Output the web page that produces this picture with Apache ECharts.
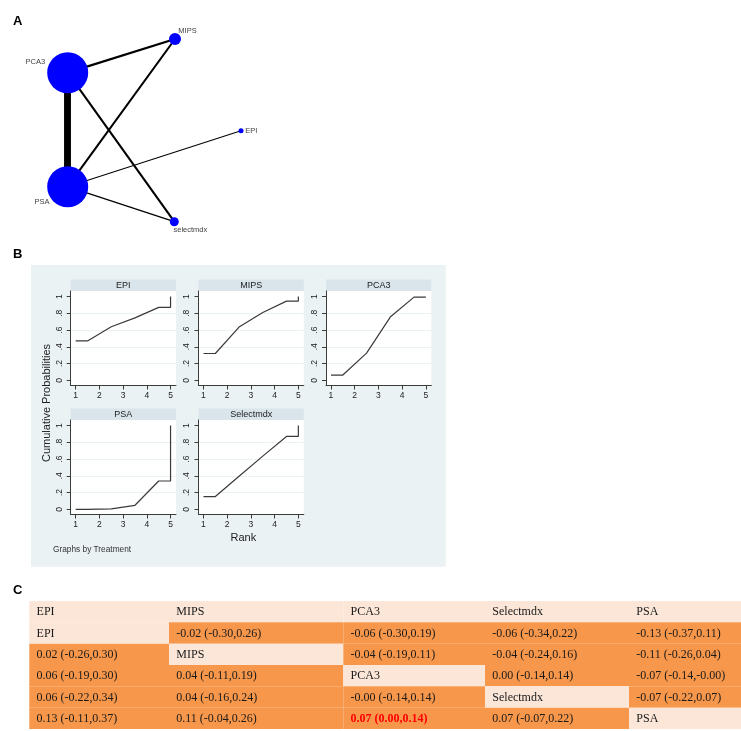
<!DOCTYPE html>
<html><head><meta charset="utf-8">
<script src="https://cdn.jsdelivr.net/npm/echarts@6/dist/echarts.min.js"></script>
<style>html,body{margin:0;padding:0;background:#fff}#c{width:741px;height:731px}</style>
</head><body><div id="c"></div>
<script>
// ---------- Panel A: network data ----------
const netNodes = ['PCA3', 'PSA', 'MIPS', 'EPI', 'selectmdx'];
const netNodeWeight = [41, 41, 12, 5, 9];           // node diameter (sample size proxy)
const netLayoutX = [67.7, 67.7, 175, 241, 174.3];    // network layout positions
const netLayoutY = [72.7, 186.7, 39, 130.7, 221.7];
const netEdgeSource = ['PCA3', 'PCA3', 'PSA', 'PCA3', 'PSA', 'PSA'];
const netEdgeTarget = ['PSA', 'MIPS', 'MIPS', 'selectmdx', 'EPI', 'selectmdx'];
const netEdgeStudies = [6, 2, 1.8, 1.8, 0.9, 1.1];

// ---------- Panel B: cumulative rank probabilities ----------
const rankTreatments = ['EPI', 'MIPS', 'PCA3', 'PSA', 'Selectmdx'];
const cumEPI = [0.47, 0.64, 0.745, 0.87, 1];
const cumMIPS = [0.32, 0.635, 0.81, 0.945, 1];
const cumPCA3 = [0.063, 0.325, 0.755, 0.993, 1];
const cumPSA = [0, 0.005, 0.048, 0.338, 1];
const cumSelectmdx = [0.152, 0.395, 0.635, 0.87, 1];
const rankTicks = [1, 2, 3, 4, 5];
const probTicks = [0, 0.2, 0.4, 0.6, 0.8, 1];
const probTickLabels = ['0', '.2', '.4', '.6', '.8', '1'];

// ---------- Panel C: league table ----------
const leagueNames = ['EPI', 'MIPS', 'PCA3', 'Selectmdx', 'PSA'];
const leagueEst = [
  [null, -0.02, -0.06, -0.06, -0.13],
  [0.02, null, -0.04, -0.04, -0.11],
  [0.06, 0.04, null, 0.004, -0.07],
  [0.06, 0.04, -0.004, null, -0.07],
  [0.13, 0.11, 0.07, 0.07, null]];
const leagueLo = [
  [null, -0.30, -0.30, -0.34, -0.37],
  [-0.26, null, -0.19, -0.24, -0.26],
  [-0.19, -0.11, null, -0.14, -0.14],
  [-0.22, -0.16, -0.14, null, -0.22],
  [-0.11, -0.04, 0.004, -0.07, null]];
const leagueHi = [
  [null, 0.26, 0.19, 0.22, 0.11],
  [0.30, null, 0.11, 0.16, 0.04],
  [0.30, 0.19, null, 0.14, -0.004],
  [0.34, 0.24, 0.14, null, 0.07],
  [0.37, 0.26, 0.14, 0.22, null]];
const leagueHighlight = [[4, 2]];

// ================= build =================
const SANS = 'Liberation Sans, Arial, sans-serif';
const SERIF = 'Liberation Serif, Times New Roman, serif';
const cumAll = [cumEPI, cumMIPS, cumPCA3, cumPSA, cumSelectmdx];

const grids = [], xAxes = [], yAxes = [], series = [], graphics = [];

// Panel A grid
grids.push({left: 0, top: 0, width: 300, height: 250, outerBoundsMode: 'none'});
xAxes.push({type: 'value', gridIndex: 0, min: 0, max: 300, show: false});
yAxes.push({type: 'value', gridIndex: 0, min: 0, max: 250, inverse: true, show: false});
const labelCfg = {
  PCA3: {position: 'left', distance: 0, offset: [-2, -11]},
  PSA: {position: 'left', distance: 0, offset: [2.3, 15]},
  MIPS: {position: 'right', distance: 0, offset: [-2.7, -8.3]},
  EPI: {position: 'right', distance: 0, offset: [1.7, 0]},
  selectmdx: {position: 'right', distance: 0, offset: [-5.3, 8.5]}
};
series.push({
  type: 'graph', coordinateSystem: 'cartesian2d', xAxisIndex: 0, yAxisIndex: 0,
  symbol: 'circle', silent: true, animation: false,
  itemStyle: {color: '#0000ff'},
  lineStyle: {color: '#000', opacity: 1, curveness: 0},
  label: {show: true, fontSize: 7.5, color: '#444', fontFamily: SANS},
  data: netNodes.map((n, i) => ({
    name: n, value: [netLayoutX[i], netLayoutY[i]], symbolSize: netNodeWeight[i],
    label: Object.assign({show: true}, labelCfg[n])
  })),
  links: netEdgeSource.map((s, i) => ({
    source: s, target: netEdgeTarget[i], lineStyle: {width: netEdgeStudies[i] * 1.15}
  }))
});

// Panel B
const colLeft = [70.7, 198.5, 326];
const rowTop = [291, 420];
const pW = 105.3, pH = 94.5, hdrH = 11.5;
graphics.push({type: 'rect', shape: {x: 31, y: 265, width: 414.7, height: 301.7}, style: {fill: '#eaf2f3'}, z: -10});
const rankX = [1, 1.5, 2.5, 3.5, 4.5, 5, 5];
const rankIdx = [0, 0, 1, 2, 3, 3, 4];
rankTreatments.forEach((t, k) => {
  const col = k % 3, row = Math.floor(k / 3), gi = k + 1;
  const L = colLeft[col], T = rowTop[row];
  grids.push({left: L, top: T, width: pW, height: pH, show: true, backgroundColor: '#fff', borderWidth: 0, outerBoundsMode: 'none'});
  xAxes.push({
    type: 'value', gridIndex: gi, min: 0.79, max: 5.23,
    axisLine: {show: true, onZero: false, lineStyle: {color: '#3c3c3c', width: 1}},
    axisTick: {show: true, length: 4, customValues: rankTicks, lineStyle: {color: '#3c3c3c'}},
    axisLabel: {customValues: rankTicks, fontSize: 8.5, color: '#222', margin: 6, fontFamily: SANS},
    splitLine: {show: false}
  });
  yAxes.push({
    type: 'value', gridIndex: gi, min: -0.062, max: 1.066,
    axisLine: {show: true, onZero: false, lineStyle: {color: '#3c3c3c', width: 1}},
    axisTick: {show: true, length: 4, customValues: probTicks, lineStyle: {color: '#3c3c3c'}},
    axisLabel: {customValues: probTicks, rotate: 90, fontSize: 8.5, color: '#222', margin: 7, fontFamily: SANS,
      formatter: v => { let b = 0; probTicks.forEach((p, i) => { if (Math.abs(p - v) < Math.abs(probTicks[b] - v)) b = i; }); return probTickLabels[b]; }},
    splitLine: {show: true, showMaxLine: false, showMinLine: false, lineStyle: {color: '#eaf2f3', width: 1}}
  });
  const c = cumAll[k];
  series.push({
    type: 'line', xAxisIndex: gi, yAxisIndex: gi, showSymbol: false, symbol: 'none', clip: false,
    animation: false, silent: true,
    lineStyle: {color: '#3a3a3a', width: 1.2},
    data: rankX.map((x, i) => [x, c[rankIdx[i]]])
  });
  graphics.push({type: 'rect', shape: {x: L, y: T - hdrH, width: pW, height: hdrH}, style: {fill: '#d9e5ea'}});
  graphics.push({type: 'text', x: L + pW / 2, y: T - hdrH / 2 + 0.5,
    style: {text: t, fill: '#222', fontSize: 9, fontFamily: SANS, align: 'center', verticalAlign: 'middle'}});
});
graphics.push({type: 'text', x: 46.7, y: 403, rotation: Math.PI / 2,
  style: {text: 'Cumulative Probabilities', fill: '#222', fontSize: 11, fontFamily: SANS, align: 'center', verticalAlign: 'middle'}});
graphics.push({type: 'text', x: 243.3, y: 537.5,
  style: {text: 'Rank', fill: '#222', fontSize: 11, fontFamily: SANS, align: 'center', verticalAlign: 'middle'}});
graphics.push({type: 'text', x: 53, y: 549.3,
  style: {text: 'Graphs by Treatment', fill: '#333', fontSize: 8.3, fontFamily: SANS, align: 'left', verticalAlign: 'middle'}});

// Panel labels
[['A', 21], ['B', 254], ['C', 590]].forEach(([s, y]) => {
  graphics.push({type: 'text', x: 13, y: y, style: {text: s, fill: '#000', fontSize: 13, fontWeight: 'bold', fontFamily: SANS, align: 'left', verticalAlign: 'middle'}});
});

// Panel C table
const tableColEdges = [0, 139.7, 314, 455.7, 599.7, 711.7];
const gT = 6;
grids.push({left: 29.3, top: 601, width: 711.7, height: 128, outerBoundsMode: 'none'});
xAxes.push({type: 'value', gridIndex: gT, min: 0, max: 711.7, show: false});
yAxes.push({type: 'category', gridIndex: gT, data: ['h', '0', '1', '2', '3', '4'], inverse: true, show: false});
function fmt(v) { return v.toFixed(2); }
function cellInfo(r, c) {
  if (r === 0) return {text: leagueNames[c], light: true, red: false};
  const i = r - 1;
  if (i === c) return {text: leagueNames[c], light: true, red: false};
  const red = leagueHighlight.some(h => h[0] === i && h[1] === c);
  return {text: fmt(leagueEst[i][c]) + ' (' + fmt(leagueLo[i][c]) + ',' + fmt(leagueHi[i][c]) + ')', light: false, red: red};
}
const cells = [];
for (let r = 0; r < 6; r++) for (let c = 0; c < 5; c++) cells.push([c, r]);
series.push({
  type: 'custom', xAxisIndex: gT, yAxisIndex: gT, silent: true, animation: false, clip: false,
  data: cells,
  renderItem: function (params, api) {
    const c = api.value(0), r = api.value(1);
    const h = api.size([0, 1])[1];
    const p0 = api.coord([tableColEdges[c], r]);
    const p1 = api.coord([tableColEdges[c + 1], r]);
    const cell = cellInfo(r, c);
    return {type: 'group', children: [
      {type: 'rect', shape: {x: p0[0], y: p0[1] - h / 2, width: p1[0] - p0[0], height: h},
        style: {fill: cell.light ? '#fbe6d8' : '#f6974b'}},
      {type: 'text', style: {text: cell.text, x: p0[0] + 7.3, y: p0[1] + 0.5, align: 'left', verticalAlign: 'middle',
        fill: cell.red ? '#ff0000' : '#1a1a1a', fontSize: 12, fontFamily: SERIF, fontWeight: cell.red ? 'bold' : 'normal'}}
    ]};
  }
});

const chart = echarts.init(document.getElementById('c'), null, {renderer: 'canvas'});
chart.setOption({
  animation: false,
  backgroundColor: '#fff',
  textStyle: {fontFamily: SANS},
  grid: grids, xAxis: xAxes, yAxis: yAxes, series: series,
  graphic: {elements: graphics}
});
</script></body></html>
